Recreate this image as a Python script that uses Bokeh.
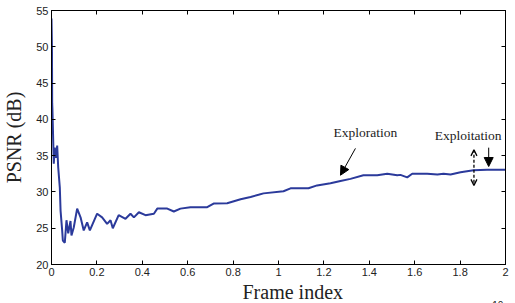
from bokeh.plotting import figure
from bokeh.models import Range1d, LinearAxis, Label, Arrow, NormalHead, OpenHead, FixedTicker, Title
from bokeh.embed import file_html
from bokeh.resources import INLINE

# ---- data (frame index in units of 1e4, PSNR in dB) ----
frame_x = [0.000, 0.002, 0.003, 0.004, 0.010, 0.0145, 0.0207, 0.025, 0.0295, 0.0366,
           0.040, 0.047, 0.050, 0.0586, 0.066, 0.0736, 0.0837, 0.088, 0.098, 0.113,
           0.128, 0.142, 0.157, 0.169, 0.201, 0.223, 0.245, 0.260, 0.270, 0.296,
           0.326, 0.348, 0.363, 0.385, 0.414, 0.451, 0.466, 0.510, 0.539, 0.568,
           0.612, 0.656, 0.686, 0.714, 0.774, 0.833, 0.877, 0.912, 0.934, 1.022,
           1.053, 1.132, 1.170, 1.229, 1.273, 1.317, 1.374, 1.435, 1.479, 1.523,
           1.537, 1.567, 1.589, 1.655, 1.700, 1.727, 1.758, 1.802, 1.859, 1.919, 2.000]
psnr = [53.9, 50.0, 42.2, 41.5, 33.9, 36.1, 34.7, 36.4, 33.4, 30.6,
        27.4, 24.7, 23.3, 23.0, 26.1, 24.3, 26.0, 24.0, 25.1, 27.7,
        26.5, 24.7, 25.8, 24.7, 27.0, 26.5, 25.6, 26.1, 25.0, 26.8,
        26.3, 27.0, 26.5, 27.2, 26.8, 27.0, 27.7, 27.7, 27.3, 27.7,
        27.9, 27.9, 27.9, 28.4, 28.45, 29.0, 29.3, 29.6, 29.8, 30.1,
        30.5, 30.5, 30.9, 31.2, 31.5, 31.8, 32.3, 32.3, 32.5, 32.3,
        32.35, 32.0, 32.5, 32.5, 32.4, 32.5, 32.4, 32.7, 33.0, 33.05, 33.05]

x_ticks = [0, 0.2, 0.4, 0.6, 0.8, 1, 1.2, 1.4, 1.6, 1.8, 2]
x_tick_labels = ["0", "0.2", "0.4", "0.6", "0.8", "1", "1.2", "1.4", "1.6", "1.8", "2"]
y_ticks = [20, 25, 30, 35, 40, 45, 50, 55]
y_tick_labels = ["20", "25", "30", "35", "40", "45", "50", "55"]

# annotation anchors (data units)
explore_text = (1.383, 38.2)
explore_arrow = (1.339, 36.0, 1.273, 32.3)
exploit_text = (1.835, 37.8)
exploit_arrow = (1.926, 36.1, 1.926, 33.5)
exploit_dash = (1.861, 35.8, 1.861, 30.9)

p = figure(width=515, height=303, output_backend="svg", toolbar_location=None,
           x_range=Range1d(0, 2), y_range=Range1d(20, 55),
           min_border_left=51, min_border_right=10, min_border_top=10, min_border_bottom=39)
p.background_fill_color = "white"
p.border_fill_color = "white"
p.outline_line_color = "black"
p.xgrid.visible = False
p.ygrid.visible = False

def style_axis(ax, ticks, labels, show_labels=True):
    ax.ticker = FixedTicker(ticks=ticks)
    ax.major_tick_in = 4
    ax.major_tick_out = 0
    ax.minor_tick_in = 0
    ax.minor_tick_out = 0
    ax.axis_line_color = "black"
    ax.major_tick_line_color = "black"
    ax.major_label_text_font = "Liberation Sans"
    ax.major_label_text_color = "#222222"
    if show_labels:
        ax.major_label_overrides = {t: l for t, l in zip(ticks, labels)}
        ax.major_label_text_font_size = "11px"
        ax.major_label_standoff = 3
    else:
        ax.major_label_overrides = {t: "" for t in ticks}
        ax.major_label_text_font_size = "1px"
        ax.major_label_standoff = 0

style_axis(p.xaxis[0], x_ticks, x_tick_labels)
style_axis(p.yaxis[0], y_ticks, y_tick_labels)
top = LinearAxis()
right = LinearAxis()
style_axis(top, x_ticks, x_tick_labels, False)
style_axis(right, y_ticks, y_tick_labels, False)
p.add_layout(top, "above")
p.add_layout(right, "right")

serif = "Liberation Serif"
p.yaxis[0].axis_label = "PSNR (dB)"
p.yaxis[0].axis_label_text_font = serif
p.yaxis[0].axis_label_text_font_size = "20px"
p.yaxis[0].axis_label_text_font_style = "normal"
p.yaxis[0].axis_label_text_color = "#222222"
p.yaxis[0].axis_label_standoff = 8

# axis title, then the exponent note pulled up beside it
p.add_layout(Title(text="Frame index", text_font=serif, text_font_size="20px", text_font_style="normal",
                   text_color="#222222", align="left", offset=191, standoff=0), "below")
p.add_layout(Title(text="x 10\u2074", text_font="Liberation Sans", text_font_size="10px", text_font_style="normal",
                   text_color="#222222", align="left", offset=433, standoff=-17), "below")

p.line(frame_x, psnr, line_color="#2b3a9b", line_width=2)

p.add_layout(Label(x=explore_text[0], y=explore_text[1], text="Exploration", text_font=serif,
                   text_font_size="13.5px", text_align="center", text_baseline="middle", text_color="#222222"))
p.add_layout(Label(x=exploit_text[0], y=exploit_text[1], text="Exploitation", text_font=serif,
                   text_font_size="13.5px", text_align="center", text_baseline="middle", text_color="#222222"))

p.add_layout(Arrow(x_start=explore_arrow[0], y_start=explore_arrow[1], x_end=explore_arrow[2], y_end=explore_arrow[3],
                   line_width=1, line_color="black",
                   end=NormalHead(size=9, fill_color="black", line_color="black")))
p.add_layout(Arrow(x_start=exploit_arrow[0], y_start=exploit_arrow[1], x_end=exploit_arrow[2], y_end=exploit_arrow[3],
                   line_width=1, line_color="black",
                   end=NormalHead(size=9, fill_color="black", line_color="black")))
p.add_layout(Arrow(x_start=exploit_dash[0], y_start=exploit_dash[1], x_end=exploit_dash[2], y_end=exploit_dash[3],
                   line_width=1.3, line_color="black", line_dash="3 2",
                   start=OpenHead(size=6, line_color="black", line_width=1.3),
                   end=OpenHead(size=6, line_color="black", line_width=1.3)))

open("out.html", "w").write(file_html(p, INLINE))
